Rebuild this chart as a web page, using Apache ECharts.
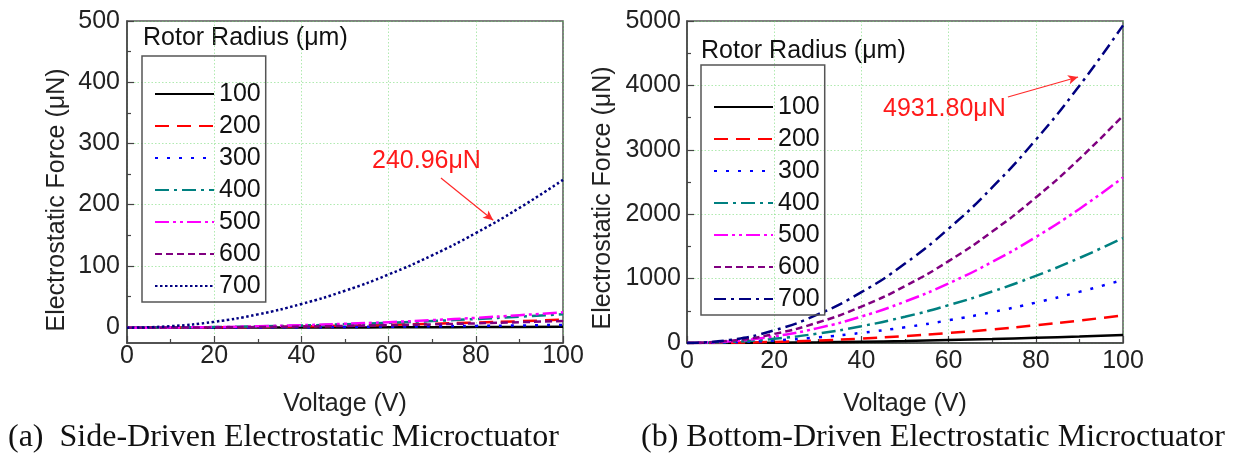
<!DOCTYPE html>
<html>
<head>
<meta charset="utf-8">
<script src="https://cdn.jsdelivr.net/npm/echarts@6/dist/echarts.min.js"></script>
<style>
html,body{margin:0;padding:0;background:#fff}
#chart{width:1242px;height:462px}
</style>
</head>
<body>
<div id="chart"></div>
<script>
//数据
var voltage = [0, 10, 20, 30, 40, 50, 60, 70, 80, 90, 100];
var radii = ['100', '200', '300', '400', '500', '600', '700'];

//侧驱动 (a)
var side100 = [0, 0.02, 0.06, 0.14, 0.24, 0.38, 0.54, 0.74, 0.96, 1.2, 1.5];
var side200 = [0, 0.13, 0.5, 1.2, 2.1, 3.3, 4.7, 6.4, 8.3, 10.5, 13];
var side300 = [0, 0.05, 0.18, 0.4, 0.7, 1.1, 1.6, 2.2, 2.9, 3.6, 4.5];
var side400 = [0, 0.22, 0.9, 2, 3.5, 5.5, 7.9, 10.8, 14.1, 17.8, 22];
var side500 = [0, 0.25, 1, 2.3, 4, 6.3, 9, 12.3, 16, 20.3, 25];
var side600 = [0, 0.11, 0.44, 1, 1.8, 2.8, 4, 5.4, 7, 8.9, 11];
var side700 = [0, 2.4, 9.6, 21.7, 38.6, 60.2, 86.7, 118, 154.2, 195.2, 240.96];

//底驱动 (b)
var bottom100 = [0, 1, 5, 11, 20, 31, 45, 61, 80, 101, 125];
var bottom200 = [0, 4, 17, 39, 69, 108, 155, 211, 275, 348, 430];
var bottom300 = [0, 10, 39, 88, 157, 245, 353, 480, 627, 794, 980];
var bottom400 = [0, 16, 65, 147, 261, 408, 587, 799, 1043, 1320, 1630];
var bottom500 = [0, 26, 103, 231, 411, 643, 925, 1259, 1645, 2082, 2570];
var bottom600 = [0, 35, 141, 318, 565, 883, 1271, 1730, 2259, 2859, 3530];
var bottom700 = [0, 49, 197, 444, 789, 1233, 1775, 2416, 3156, 3995, 4932];

//标注箭头 (数据坐标)
var sideArrow = [[72, 244], [84, 175]];
var bottomArrow = [[73.6, 3820], [89.7, 4130]];

//样式
var lineColors = ['#000000', '#ff0000', '#0000ff', '#008080', '#ff00ff', '#800080', '#000080'];
var sideDash = ['solid', [14, 8], [3, 9], [14, 5, 3, 5], [14, 4, 3, 4, 3, 4], [7, 4], [2.5, 2.5]];
var bottomDash = ['solid', [14, 8], [3, 9], [14, 5, 3, 5], [14, 4, 3, 4, 3, 4], [7, 4], [12, 5, 3, 5]];
var sans = '"Liberation Sans", Arial, sans-serif';
var serif = '"Liberation Serif", "Times New Roman", serif';
var gridGreen = '#6fd86f';
var axisGray = '#444';
var fs = 25;

var myChart = echarts.init(document.getElementById('chart'));

function makeSeries(prefix, list, dashes, xi, yi) {
  return list.map(function (vals, i) {
    return {
      name: prefix + radii[i],
      type: 'line',
      xAxisIndex: xi,
      yAxisIndex: yi,
      data: voltage.map(function (v, k) { return [v, vals[k]]; }),
      smooth: true,
      symbol: 'none',
      lineStyle: { color: lineColors[i], width: 2.5, type: dashes[i] },
      itemStyle: { color: lineColors[i] },
      z: 3
    };
  });
}

function arrowLine(pts) {
  return {
    silent: true,
    symbol: ['none', 'arrow'],
    symbolSize: [7, 10],
    label: { show: false },
    lineStyle: { color: '#ff2a2a', width: 1.2, type: 'solid' },
    data: [[{ coord: pts[0] }, { coord: pts[1] }]]
  };
}

var sideSeries = makeSeries('a', [side100, side200, side300, side400, side500, side600, side700], sideDash, 0, 0);
var bottomSeries = makeSeries('b', [bottom100, bottom200, bottom300, bottom400, bottom500, bottom600, bottom700], bottomDash, 2, 2);
sideSeries[6].markLine = arrowLine(sideArrow);
bottomSeries[6].markLine = arrowLine(bottomArrow);

//网格线: 浅绿色点线
var splitLineCfg = { show: true, lineStyle: { color: gridGreen, type: [1.5, 2], width: 1, opacity: 0.55 } };

function xAxisCfg(gi, labelMargin) {
  return {
    type: 'value', gridIndex: gi, min: 0, max: 100, interval: 20,
    name: 'Voltage (V)', nameLocation: 'middle', nameGap: 49,
    nameTextStyle: { fontFamily: sans, fontSize: fs, color: '#222' },
    axisLine: { onZero: false, lineStyle: { color: axisGray, width: 1.5 } },
    axisTick: { inside: true, length: 7, lineStyle: { color: axisGray, width: 1.2 } },
    minorTick: { show: true, splitNumber: 2, length: 4, lineStyle: { color: axisGray, width: 1.2 } },
    axisLabel: { fontFamily: sans, fontSize: fs, color: '#222', margin: labelMargin },
    splitLine: splitLineCfg
  };
}

function yTicks(gi, max, interval) {
  return {
    type: 'value', gridIndex: gi, min: 0, max: max, interval: interval,
    axisLine: { show: false },
    axisTick: { inside: true, length: 7, lineStyle: { color: axisGray, width: 1.2 } },
    minorTick: { show: true, splitNumber: 2, length: 4, lineStyle: { color: axisGray, width: 1.2 } },
    axisLabel: {
      fontFamily: sans, fontSize: fs, color: '#222', margin: 7,
      formatter: function (v) { return String(v); }
    },
    splitLine: splitLineCfg
  };
}

function legendCfg(prefix, left, top, padTop) {
  return {
    orient: 'vertical', left: left, top: top,
    data: radii.map(function (r) { return prefix + r; }),
    formatter: function (name) { return name.slice(1); },
    itemWidth: 59, itemHeight: 14, itemGap: 0,
    itemStyle: { opacity: 0 },
    padding: [padTop, 5, 0, 12],
    borderColor: '#555', borderWidth: 1.5,
    selectedMode: false,
    textStyle: { fontFamily: sans, fontSize: fs, color: '#111', lineHeight: 32 }
  };
}

var yName = 'Electrostatic Force (\u03bcN)';

var option = {
  animation: false,
  backgroundColor: '#fff',
  grid: [
    { left: 127, top: 21, width: 436, height: 322, show: true, borderColor: '#555', borderWidth: 1.5 },
    { left: 127, top: 21, width: 436, height: 306 },
    { left: 687, top: 21, width: 436, height: 322, show: true, borderColor: '#555', borderWidth: 1.5 }
  ],
  xAxis: [
    xAxisCfg(0, 1),
    { type: 'value', gridIndex: 1, min: 0, max: 100, show: false },
    xAxisCfg(2, 6)
  ],
  yAxis: [
    {
      type: 'value', gridIndex: 0, min: -25, max: 500,
      name: yName, nameLocation: 'middle', nameGap: 57,
      nameTextStyle: { fontFamily: sans, fontSize: fs, color: '#222', padding: [0, 36, 0, 0] },
      axisLine: { lineStyle: { color: axisGray, width: 1.5 } },
      axisTick: { show: false }, axisLabel: { show: false }, splitLine: { show: false }
    },
    yTicks(1, 500, 100),
    (function () {
      var y = yTicks(2, 5000, 1000);
      y.name = yName;
      y.nameLocation = 'middle';
      y.nameGap = 71;
      y.nameTextStyle = { fontFamily: sans, fontSize: fs, color: '#222', padding: [0, 32, 0, 0] };
      y.axisLine = { show: true, lineStyle: { color: axisGray, width: 1.5 } };
      y.axisLabel.margin = 6;
      return y;
    })()
  ],
  legend: [
    legendCfg('a', 142, 56, 22),
    legendCfg('b', 701, 65, 26)
  ],
  graphic: [
    { type: 'text', left: 143, top: 26, style: { text: 'Rotor Radius (\u03bcm)', font: fs + 'px ' + sans, fill: '#111' } },
    { type: 'text', left: 701, top: 39, style: { text: 'Rotor Radius (\u03bcm)', font: fs + 'px ' + sans, fill: '#111' } },
    { type: 'text', left: 372, top: 149, style: { text: '240.96\u03bcN', font: fs + 'px ' + sans, fill: '#ff1a1a' } },
    { type: 'text', left: 883, top: 97, style: { text: '4931.80\u03bcN', font: fs + 'px ' + sans, fill: '#ff1a1a' } },
    { type: 'text', left: 8, top: 422, style: { text: '(a)  Side-Driven Electrostatic Microctuator', font: '32px ' + serif, fill: '#111' } },
    { type: 'text', left: 641, top: 422, style: { text: '(b) Bottom-Driven Electrostatic Microctuator', font: '32px ' + serif, fill: '#111' } }
  ],
  series: sideSeries.concat(bottomSeries)
};

myChart.setOption(option);
window.addEventListener('resize', function () {
  myChart.resize();
});
</script>
</body>
</html>
